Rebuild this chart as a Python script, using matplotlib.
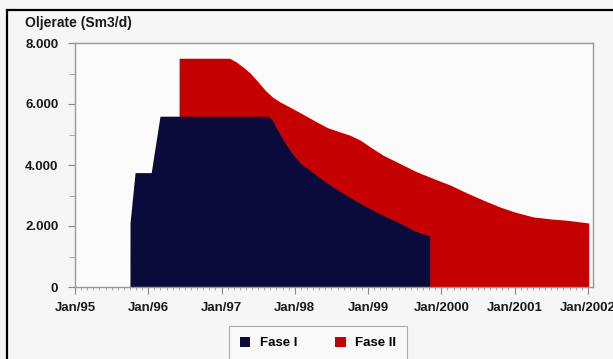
import matplotlib
matplotlib.use("Agg")
import matplotlib.pyplot as plt
from matplotlib.patches import Patch, Rectangle
from matplotlib.ticker import MultipleLocator

# ---- data (decimal years, Sm3/d) ----
fase1_x = [1995.75, 1995.751, 1995.82, 1996.04, 1996.16, 1997.63, 1997.69, 1997.75,
           1997.84, 1997.95, 1998.07, 1998.30, 1998.52, 1998.75, 1998.98, 1999.20,
           1999.43, 1999.62, 1999.80, 1999.84]
fase1_y = [0, 2100, 3750, 3750, 5600, 5600, 5480, 5200,
           4820, 4420, 4066, 3650, 3279, 2940, 2623, 2350,
           2098, 1860, 1700, 1680]

total_x = [1996.42, 1996.421, 1997.11, 1997.20, 1997.30, 1997.39, 1997.50, 1997.60,
           1997.70, 1997.80, 1997.93, 1998.10, 1998.30, 1998.45, 1998.62, 1998.75,
           1998.89, 1999.05, 1999.20, 1999.45, 1999.67, 1999.90, 2000.12, 2000.35,
           2000.58, 2000.80, 2001.00, 2001.25, 2001.50, 2001.71, 2002.01]
total_y = [0, 7500, 7500, 7380, 7200, 7016, 6720, 6440,
           6220, 6066, 5902, 5680, 5410, 5220, 5082, 4980,
           4820, 4560, 4328, 4030, 3770, 3550, 3344, 3082,
           2840, 2623, 2460, 2300, 2230, 2190, 2100]

year_ticks = [1995, 1996, 1997, 1998, 1999, 2000, 2001, 2002]
year_labels = ["Jan/95", "Jan/96", "Jan/97", "Jan/98", "Jan/99",
               "Jan/2000", "Jan/2001", "Jan/2002"]
y_ticks = [0, 2000, 4000, 6000, 8000]
y_labels = ["0", "2.000", "4.000", "6.000", "8.000"]
series_names = ["Fase I", "Fase II"]

BLUE = "#0b0b3b"
RED = "#c40000"

plt.rcParams["font.family"] = ["Liberation Sans", "DejaVu Sans"]
plt.rcParams["font.weight"] = "bold"

W, H = 613, 359
fig = plt.figure(figsize=(W / 100, H / 100), dpi=100, facecolor="#f6f6f6")

# outer black frame (partially cut by image edge)
fig.patches.append(Rectangle((7 / W, -0.1), 1.2, 1 - 10 / H + 0.1, transform=fig.transFigure,
                             fill=False, edgecolor="black", linewidth=1.6))

ax = fig.add_axes([75 / W, 1 - 287 / H, (593 - 75) / W, (287 - 43) / H])
ax.set_facecolor("#fbfbfb")

# Fase II (stacked total envelope) behind, Fase I in front
ax.fill_between(total_x, 0, total_y, color=RED, linewidth=0)
ax.fill_between(fase1_x, 0, fase1_y, color=BLUE, linewidth=0)

ax.set_xlim(1995.0, 2002.07)
ax.set_ylim(0, 8000)

ax.set_xticks(year_ticks)
ax.set_xticklabels(year_labels)
ax.xaxis.set_minor_locator(MultipleLocator(1 / 12))
ax.set_yticks(y_ticks)
ax.set_yticklabels(y_labels)
ax.yaxis.set_minor_locator(MultipleLocator(1000))

ax.tick_params(axis="x", which="major", length=5, width=0.8, color="#888888",
               labelsize=9.5, pad=6, labelcolor="#1a1a1a")
ax.tick_params(axis="x", which="minor", length=2.5, width=0.6, color="#999999")
ax.tick_params(axis="y", which="major", length=5, width=0.8, color="#888888",
               labelsize=9.5, pad=7, labelcolor="#1a1a1a")
ax.tick_params(axis="y", which="minor", length=4, width=0.6, color="#999999")
for lab in ax.get_xticklabels() + ax.get_yticklabels():
    lab.set_fontweight("bold")

for s in ax.spines.values():
    s.set_color("#999999")
    s.set_linewidth(1.0)

fig.text(25 / W, 1 - 23 / H, "Oljerate (Sm3/d)", fontsize=10, fontweight="bold",
         color="#1a1a1a", ha="left", va="center")

handles = [Patch(facecolor=BLUE, edgecolor="none"), Patch(facecolor=RED, edgecolor="none")]
leg = fig.legend(handles, series_names, loc="upper center", ncol=2,
                 bbox_to_anchor=(318 / W, 1 - 326 / H), frameon=True, fancybox=False,
                 handlelength=0.8, handleheight=0.8, handletextpad=0.7,
                 columnspacing=2.9, borderpad=0.8, borderaxespad=0,
                 prop={"weight": "bold", "size": 9.5})
leg.get_frame().set_edgecolor("#999999")
leg.get_frame().set_facecolor("#fafafa")
leg.get_frame().set_linewidth(0.8)

fig.savefig("out.png", dpi=100, facecolor=fig.get_facecolor())
